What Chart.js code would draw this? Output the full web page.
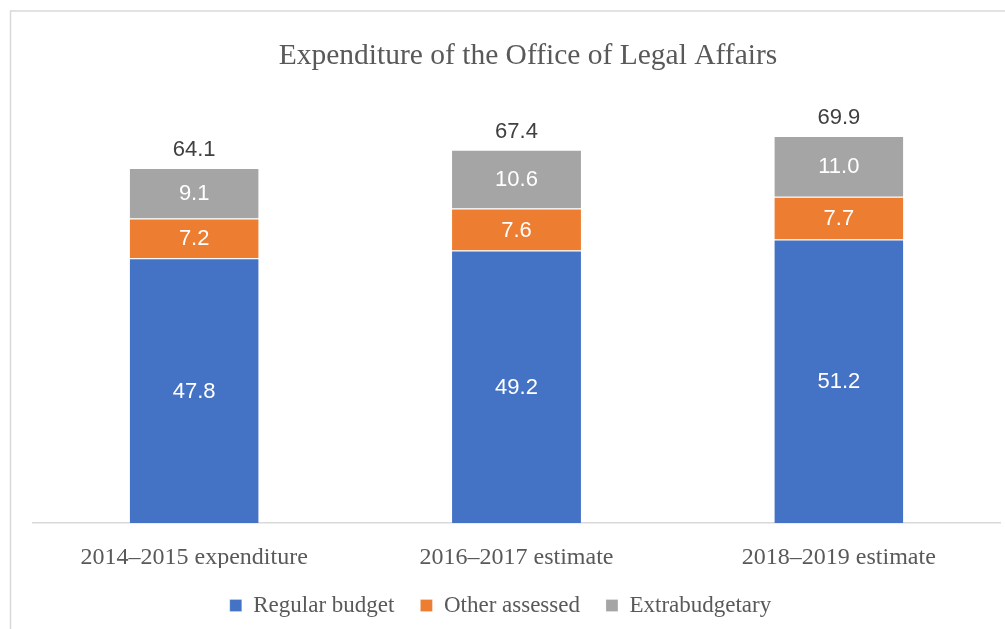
<!DOCTYPE html>
<html>
<head>
<meta charset="utf-8">
<script src="https://cdn.jsdelivr.net/npm/chart.js@4"></script>
<style>
  body { margin: 0; background: #fff; }
  #wrap { position: relative; width: 1005px; height: 629px; }
</style>
</head>
<body>
<div id="wrap"><canvas id="miGrafica" width="1005" height="629"></canvas></div>
<script>
// categorias
const periodos = ["2014–2015 expenditure", "2016–2017 estimate", "2018–2019 estimate"];
// datos (millones)
const regular = [47.8, 49.2, 51.2];
const otros = [7.2, 7.6, 7.7];
const extra = [9.1, 10.6, 11.0];
const totales = [64.1, 67.4, 69.9];
const titulo = "Expenditure of the Office of Legal Affairs";

// borde del cuadro, titulo y etiquetas de valores
const marco = {
  id: "marco",
  afterLayout(chart) {
    // la leyenda del original esta un poco corrida a la izquierda
    chart.legend.left -= 16;
    chart.legend.right -= 16;
  },
  beforeDraw(chart) {
    const c = chart.ctx;
    c.save();
    c.strokeStyle = "#d9d9d9";
    c.lineWidth = 1.5;
    c.beginPath();
    c.moveTo(10.5, 629);
    c.lineTo(10.5, 11);
    c.lineTo(1005, 11);
    c.stroke();
    // titulo (centrado sobre el cuadro completo, no solo el area del grafico)
    c.fillStyle = "#595959";
    c.font = "29.5px 'Liberation Serif'";
    c.textAlign = "center";
    c.textBaseline = "middle";
    c.fillText(titulo, 528, 56);
    c.restore();
  },
  afterDatasetsDraw(chart) {
    const c = chart.ctx;
    c.save();
    c.textAlign = "center";
    c.textBaseline = "middle";
    c.font = "22px 'Liberation Sans'";
    chart.data.datasets.forEach((ds, i) => {
      chart.getDatasetMeta(i).data.forEach((bar, j) => {
        c.fillStyle = "#ffffff";
        c.fillText(ds.data[j].toFixed(1), bar.x, (bar.y + bar.base) / 2 + 1);
      });
    });
    const ultimo = chart.getDatasetMeta(2).data;
    c.fillStyle = "#404040";
    ultimo.forEach((bar, j) => {
      c.fillText(totales[j].toFixed(1), bar.x, bar.y - 18);
    });
    c.restore();
  }
};

const ctx = document.getElementById("miGrafica").getContext("2d");
new Chart(ctx, {
  type: "bar",
  data: {
    labels: periodos,
    datasets: [
      { label: "Regular budget", data: regular, backgroundColor: "#4472c4" },
      { label: "Other assessed", data: otros, backgroundColor: "#ed7d31" },
      { label: "Extrabudgetary", data: extra, backgroundColor: "#a5a5a5" }
    ].map(d => Object.assign(d, {
      borderColor: "#ffffff",
      borderWidth: { top: 1, left: 0, right: 0, bottom: 0 },
      borderSkipped: false,
      categoryPercentage: 1,
      barPercentage: 0.4
    }))
  },
  options: {
    responsive: false,
    animation: false,
    layout: { padding: { left: 33, right: 5, top: 80, bottom: 2 } },
    plugins: {
      title: { display: false },
      legend: {
        position: "bottom",
        labels: {
          color: "#595959",
          font: { family: "'Liberation Serif'", size: 23 },
          boxWidth: 12,
          boxHeight: 12,
          padding: 26
        }
      },
      tooltip: { enabled: false }
    },
    scales: {
      x: {
        stacked: true,
        grid: { display: false },
        border: { color: "#d9d9d9", width: 1.5 },
        ticks: {
          color: "#595959",
          font: { family: "'Liberation Serif'", size: 24 },
          padding: 12
        },
        afterFit(scale) {
          scale.height = 45;
        }
      },
      y: {
        stacked: true,
        display: false,
        min: 0,
        max: 80
      }
    }
  },
  plugins: [marco]
});
</script>
</body>
</html>
